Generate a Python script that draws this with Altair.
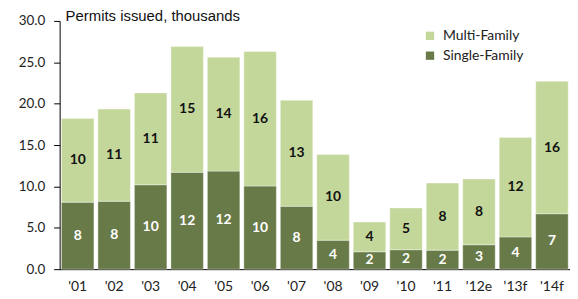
import altair as alt
import pandas as pd

years = ["'01", "'02", "'03", "'04", "'05", "'06", "'07", "'08", "'09", "'10", "'11", "'12e", "'13f", "'14f"]
single = [8.1, 8.2, 10.2, 11.7, 11.85, 10.05, 7.6, 3.5, 2.1, 2.35, 2.3, 2.95, 3.9, 6.7]
multi = [10.1, 11.15, 11.1, 15.2, 13.75, 16.25, 12.8, 10.35, 3.6, 5.05, 8.1, 7.95, 12.0, 16.0]
series = ["Multi-Family", "Single-Family"]
colors = ["#C4D79B", "#687A48"]
title_text = "Permits issued, thousands"

rows = []
for i, y in enumerate(years):
    rows.append({"year": y, "type": "Single-Family", "value": single[i], "ord": 0})
    rows.append({"year": y, "type": "Multi-Family", "value": multi[i], "ord": 1})
df = pd.DataFrame(rows)

FONT = "Lato"

base = alt.Chart(df).transform_stack(
    stack="value", groupby=["year"], as_=["y0", "y1"], sort=[alt.SortField("ord")]
).transform_calculate(mid="(datum.y0 + datum.y1) / 2")

x_enc = alt.X("year:N", sort=years, title=None,
              scale=alt.Scale(paddingInner=0.11, paddingOuter=0.05),
              axis=alt.Axis(labelAngle=0, ticks=False, domainColor="#000000",
                            labelFont=FONT, labelFontSize=14, labelColor="#222222",
                            labelPadding=10))

bars = base.mark_bar(stroke="#ffffff", strokeWidth=0.6, strokeOpacity=0.6).encode(
    x=x_enc,
    y=alt.Y("y0:Q", title=None,
            scale=alt.Scale(domain=[0, 30], nice=False),
            axis=alt.Axis(values=[0, 5, 10, 15, 20, 25, 30], format=".1f", grid=False,
                          tickSize=6, tickColor="#000000", domainColor="#000000",
                          labelFont=FONT, labelFontSize=13.5, labelColor="#222222",
                          labelPadding=9)),
    y2="y1:Q",
    color=alt.Color("type:N", scale=alt.Scale(domain=series, range=colors),
                    legend=alt.Legend(title=None, orient="none", legendX=366, legendY=8,
                                      symbolType="square", symbolSize=70,
                                      symbolStrokeWidth=0, labelFont=FONT,
                                      labelFontSize=14, labelColor="#222222",
                                      rowPadding=6, labelOffset=6)),
)

labels = base.mark_text(font=FONT, fontWeight="bold", fontSize=14, baseline="middle").encode(
    x=alt.X("year:N", sort=years),
    y=alt.Y("mid:Q"),
    text=alt.Text("value:Q", format=".0f"),
    color=alt.condition(alt.datum.type == "Single-Family", alt.value("white"), alt.value("#111111")),
)

title = alt.Chart(pd.DataFrame({"t": [title_text]})).mark_text(
    align="left", baseline="alphabetic", font="Liberation Sans", fontSize=15, color="#111111"
).encode(x=alt.value(6), y=alt.value(0), text="t:N")

chart = alt.layer(bars, labels, title).properties(
    width=514, height=250,
    autosize=alt.AutoSizeParams(type="none"),
    padding={"left": 52, "top": 12, "right": 0, "bottom": 25},
).configure_view(stroke=None)

chart.save("out.html", embed_options={"renderer": "svg", "actions": False})
